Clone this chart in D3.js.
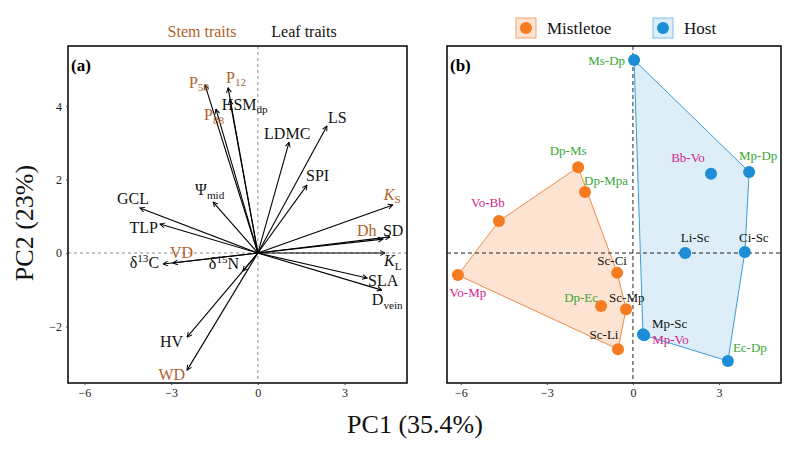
<!DOCTYPE html>
<html>
<head>
<meta charset="utf-8">
<style>
  body { margin: 0; background: #fff; }
  text { font-family: "Liberation Serif", "DejaVu Serif", serif; }
</style>
</head>
<body>
<svg id="chart" width="800" height="453"></svg>
<script src="https://cdnjs.cloudflare.com/ajax/libs/d3/7.8.5/d3.min.js"></script>
<script>
// ---- data ----
// panel (a): trait loadings
var traitNames = ["P_{50}", "P_{12}", "HSM_{dp}", "P_{88}", "LDMC", "LS", "SPI", "*K*_{S}", "Dh", "SD",
                  "*K*_{L}", "SLA", "D_{vein}", "GCL", "TLP", "Ψ_{mid}", "VD", "δ^{13}C", "δ^{15}N", "HV", "WD"];
var traitPC1 = [-1.83, -1.03, -0.97, -1.45, 1.08, 2.39, 1.70, 4.67, 4.33, 4.57,
                4.40, 3.78, 4.29, -4.08, -3.39, -1.55, -2.94, -3.28, -0.52, -2.45, -2.45];
var traitPC2 = [4.58, 4.50, 4.17, 3.92, 3.02, 3.46, 1.85, 1.31, 0.38, 0.44,
                0.00, -0.68, -1.01, 1.23, 0.79, 1.39, -0.27, -0.30, -0.49, -2.29, -3.19];
var traitGroup = ["stem", "stem", "leaf", "stem", "leaf", "leaf", "leaf", "stem", "stem", "leaf",
                  "leaf", "leaf", "leaf", "leaf", "leaf", "leaf", "stem", "leaf", "leaf", "leaf", "stem"];

// panel (b): species-pair scores
var mistNames = ["Dp-Ms", "Dp-Mpa", "Vo-Bb", "Vo-Mp", "Sc-Ci", "Dp-Ec", "Sc-Mp", "Sc-Li"];
var mistPC1 = [-1.91, -1.67, -4.67, -6.10, -0.55, -1.11, -0.24, -0.52];
var mistPC2 = [2.34, 1.66, 0.87, -0.60, -0.54, -1.44, -1.53, -2.62];
var hostNames = ["Ms-Dp", "Bb-Vo", "Mp-Dp", "Li-Sc", "Ci-Sc", "Mp-Sc", "Mp-Vo", "Ec-Dp"];
var hostPC1 = [0.04, 2.72, 4.05, 1.82, 3.90, 0.35, 0.39, 3.31];
var hostPC2 = [5.26, 2.16, 2.21, 0.00, 0.03, -2.21, -2.24, -2.94];

var xTicks = [-6, -3, 0, 3];
var yTicks = [-2, 0, 2, 4];
var legendLabels = ["Mistletoe", "Host"];

// ---- layout / style ----
var brown = "#b0622a", green = "#38a935", magenta = "#d4238c";
var orange = "#f47b20", blue = "#1c8dd6";

// label placement relative to arrow tips [dx, dy, anchor]
var traitLabelPos = {
  "P_{50}": [-6, 3, "middle"], "P_{12}": [-2, -5, "start"], "HSM_{dp}": [-8, 10, "start"],
  "P_{88}": [-12, 11, "start"], "LDMC": [-25, -3, "start"], "LS": [1, -3, "start"],
  "SPI": [-1, -4, "start"], "*K*_{S}": [-9, -5, "start"], "Dh": [-26, -3, "start"],
  "SD": [-7, -1, "start"], "*K*_{L}": [-1, 13, "start"], "SLA": [1, 8, "start"],
  "D_{vein}": [-10, 15, "start"], "GCL": [-7, -4, "middle"], "TLP": [-2, 9, "end"],
  "Ψ_{mid}": [-18, -7, "start"], "VD": [-3, -5, "start"], "δ^{13}C": [-4, 4, "end"],
  "δ^{15}N": [-34, -2, "start"], "HV": [-4, 10, "end"], "WD": [-2, 10, "end"]
};
var pairLabelPos = {
  "Ms-Dp": [-9, 5, "end"], "Dp-Ms": [-10, -12, "middle"], "Dp-Mpa": [-1, -7, "start"],
  "Vo-Bb": [-11, -14, "middle"], "Vo-Mp": [10, 22, "middle"], "Sc-Ci": [-5, -8, "middle"],
  "Dp-Ec": [-3, -4, "end"], "Sc-Mp": [-17, -7, "start"], "Sc-Li": [-14, -10, "middle"],
  "Mp-Sc": [9, -6, "start"], "Mp-Vo": [8, 9, "start"], "Ec-Dp": [5, -9, "start"],
  "Li-Sc": [10, -11, "middle"], "Ci-Sc": [9, -10, "middle"], "Bb-Vo": [-23, -12, "middle"],
  "Mp-Dp": [9, -12, "middle"]
};
function pairColor(n) {
  var a = n.split("-")[0];
  if (a === "Dp" || a === "Ms" || a === "Ec") return green;
  if (a === "Vo" || a === "Bb" || n === "Mp-Vo") return magenta;
  if (n === "Mp-Dp") return green;
  return "#111";
}

var svg = d3.select("#chart");

var yScale = d3.scaleLinear().domain([-3.54, 5.64]).range([383, 46]);
var xA = d3.scaleLinear().domain([-6.57, 5.16]).range([68, 407]);
var xB = d3.scaleLinear().domain([-6.48, 5.16]).range([447, 781]);

// rich text: *italic*, _{sub}, ^{sup}
function rich(textSel, spec, size) {
  var parts = spec.match(/\*[^*]+\*|_\{[^}]+\}|\^\{[^}]+\}|[^*_^]+/g);
  var shift = 0;
  parts.forEach(function(p) {
    var t = textSel.append("tspan");
    var target = 0, txt = p, small = false;
    if (p[0] === "*") { txt = p.slice(1, -1); t.style("font-style", "italic"); }
    else if (p[0] === "_") { txt = p.slice(2, -1); target = size * 0.22; small = true; }
    else if (p[0] === "^") { txt = p.slice(2, -1); target = -size * 0.38; small = true; }
    t.attr("dy", target - shift).text(txt);
    if (small) t.style("font-size", (size * 0.7) + "px");
    shift = target;
  });
}

// ---------- panel (a) ----------
var ga = svg.append("g");
ga.append("line").attr("x1", xA(0)).attr("x2", xA(0)).attr("y1", 46).attr("y2", 383)
  .attr("stroke", "#888").attr("stroke-dasharray", "3,3");
ga.append("line").attr("x1", 68).attr("x2", 407).attr("y1", yScale(0)).attr("y2", yScale(0))
  .attr("stroke", "#888").attr("stroke-dasharray", "3,3");

svg.append("defs").append("marker")
  .attr("id", "head").attr("viewBox", "0 0 10 10").attr("refX", 9).attr("refY", 5)
  .attr("markerWidth", 6).attr("markerHeight", 6).attr("markerUnits", "userSpaceOnUse")
  .attr("orient", "auto")
  .append("path").attr("d", "M1,1 L9,5 L1,9").attr("fill", "none")
  .attr("stroke", "#000").attr("stroke-width", 1.6);

var traits = traitNames.map(function(n, i) {
  return { name: n, x: traitPC1[i], y: traitPC2[i], group: traitGroup[i] };
});

ga.selectAll("line.arrow").data(traits).enter().append("line")
  .attr("class", "arrow")
  .attr("x1", xA(0)).attr("y1", yScale(0))
  .attr("x2", d => xA(d.x)).attr("y2", d => yScale(d.y))
  .attr("stroke", "#000").attr("stroke-width", 1.1)
  .attr("marker-end", "url(#head)");

ga.selectAll("text.trait").data(traits).enter().append("text")
  .attr("class", "trait")
  .attr("x", d => xA(d.x) + traitLabelPos[d.name][0])
  .attr("y", d => yScale(d.y) + traitLabelPos[d.name][1])
  .attr("text-anchor", d => traitLabelPos[d.name][2])
  .style("font-size", "16px")
  .attr("fill", d => d.group === "stem" ? brown : "#111")
  .each(function(d) { rich(d3.select(this), d.name, 16); });

ga.append("rect").attr("x", 68).attr("y", 46).attr("width", 339).attr("height", 337)
  .attr("fill", "none").attr("stroke", "#000").attr("stroke-width", 1.5);
ga.append("text").attr("x", 71).attr("y", 71).text("(a)")
  .style("font-size", "17px").style("font-weight", "bold");

ga.append("g").attr("transform", "translate(0,383)")
  .call(d3.axisBottom(xA).tickValues(xTicks).tickSize(2).tickPadding(3));
ga.append("g").attr("transform", "translate(68,0)")
  .call(d3.axisLeft(yScale).tickValues(yTicks).tickSize(2).tickPadding(4));

// headers
svg.append("text").attr("x", 202).attr("y", 37).attr("text-anchor", "middle")
  .style("font-size", "16px").attr("fill", brown).text("Stem traits");
svg.append("text").attr("x", 304).attr("y", 37).attr("text-anchor", "middle")
  .style("font-size", "16px").attr("fill", "#111").text("Leaf traits");

// ---------- panel (b) ----------
var gb = svg.append("g");
var mist = mistNames.map((n, i) => ({ name: n, x: mistPC1[i], y: mistPC2[i] }));
var host = hostNames.map((n, i) => ({ name: n, x: hostPC1[i], y: hostPC2[i] }));

function hull(pts) {
  return d3.polygonHull(pts.map(d => [xB(d.x), yScale(d.y)]));
}
gb.append("path").attr("d", "M" + hull(mist).join("L") + "Z")
  .attr("fill", "#fde3d1").attr("stroke", "#ef8a4a").attr("stroke-width", 1);
gb.append("path").attr("d", "M" + hull(host).join("L") + "Z")
  .attr("fill", "#ddeef9").attr("stroke", "#3d9bd7").attr("stroke-width", 1);

gb.append("line").attr("x1", xB(0)).attr("x2", xB(0)).attr("y1", 46).attr("y2", 383)
  .attr("stroke", "#222").attr("stroke-dasharray", "4,3");
gb.append("line").attr("x1", 447).attr("x2", 781).attr("y1", yScale(0)).attr("y2", yScale(0))
  .attr("stroke", "#222").attr("stroke-dasharray", "4,3");

gb.selectAll("circle.m").data(mist).enter().append("circle").attr("class", "m")
  .attr("cx", d => xB(d.x)).attr("cy", d => yScale(d.y)).attr("r", 6).attr("fill", orange);
gb.selectAll("circle.h").data(host).enter().append("circle").attr("class", "h")
  .attr("cx", d => xB(d.x)).attr("cy", d => yScale(d.y)).attr("r", 6).attr("fill", blue);

gb.selectAll("text.pair").data(mist.concat(host)).enter().append("text")
  .attr("class", "pair")
  .attr("x", d => xB(d.x) + pairLabelPos[d.name][0])
  .attr("y", d => yScale(d.y) + pairLabelPos[d.name][1])
  .attr("text-anchor", d => pairLabelPos[d.name][2])
  .style("font-size", "13px")
  .attr("fill", d => pairColor(d.name))
  .text(d => d.name);

gb.append("rect").attr("x", 447).attr("y", 46).attr("width", 334).attr("height", 337)
  .attr("fill", "none").attr("stroke", "#000").attr("stroke-width", 1.5);
gb.append("text").attr("x", 450).attr("y", 71).text("(b)")
  .style("font-size", "17px").style("font-weight", "bold");

gb.append("g").attr("transform", "translate(0,383)")
  .call(d3.axisBottom(xB).tickValues(xTicks).tickSize(2).tickPadding(3));

svg.selectAll(".domain").remove();
svg.selectAll(".tick").each(function() { d3.select(this.parentNode).attr("font-family", null); });
svg.selectAll(".tick text").style("font-size", "12px").style("font-family", "Liberation Serif").attr("fill", "#222");
svg.selectAll(".tick line").attr("stroke", "#444");

// legend
var legX = [526, 663];
var legFill = ["#fde3d1", "#ddeef9"], legStroke = ["#f3a46e", "#7fbde6"], legDot = [orange, blue];
legendLabels.forEach(function(l, i) {
  var g = svg.append("g").attr("transform", "translate(" + legX[i] + ",28)");
  g.append("rect").attr("x", -10).attr("y", -10).attr("width", 20).attr("height", 20)
    .attr("fill", legFill[i]).attr("stroke", legStroke[i]);
  g.append("circle").attr("r", 6).attr("fill", legDot[i]);
  g.append("text").attr("x", 21).attr("y", 6).style("font-size", "17px").attr("fill", "#111").text(l);
});

// axis titles
svg.append("text").attr("x", 415).attr("y", 433).attr("text-anchor", "middle")
  .style("font-size", "26px").attr("fill", "#111").text("PC1 (35.4%)");
svg.append("text").attr("transform", "translate(33,223) rotate(-90)").attr("text-anchor", "middle")
  .style("font-size", "26px").attr("fill", "#111").text("PC2 (23%)");
</script>
</body>
</html>
